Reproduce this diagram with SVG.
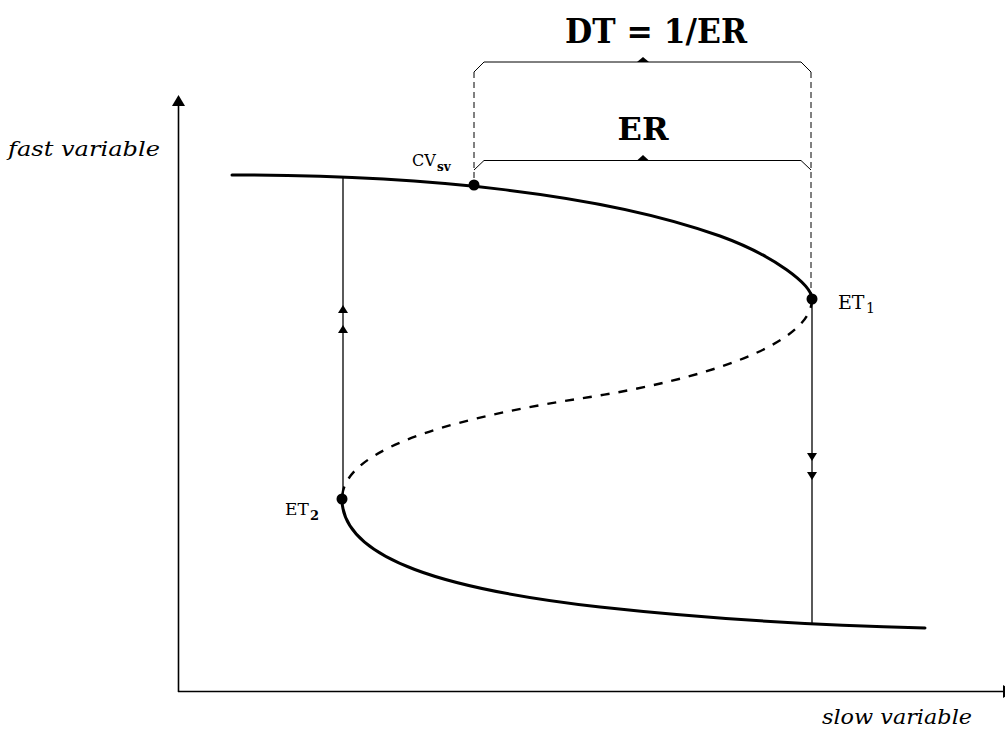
<svg xmlns="http://www.w3.org/2000/svg" width="1005" height="736" viewBox="0 0 1005 736">
<style>
.axis{stroke:#000;stroke-width:1.6;fill:none}
.curve{stroke:#000;stroke-width:3;fill:none;stroke-linecap:round}
.dashcurve{stroke:#000;stroke-width:2.4;fill:none;stroke-dasharray:9 9}
.jump{stroke:#000;stroke-width:1.3;fill:none}
.guide{stroke:#000;stroke-width:1;fill:none;stroke-dasharray:6 4}
.bracket{stroke:#000;stroke-width:1;fill:none}
.head{fill:#000}
.lbl{font-family:"DejaVu Serif","Liberation Serif",serif;fill:#000}
.it{font-style:italic}
.bold{font-weight:bold}
</style>
<rect width="1005" height="736" fill="#fff"/>
<g id="axes">
<line class="axis" x1="178.5" y1="692" x2="178.5" y2="104"/>
<polygon class="head" points="178.5,95 172,106 185,106"/>
<line class="axis" x1="178" y1="691.5" x2="1003" y2="691.5"/>
<polygon class="head" points="1014,691.5 1003,685 1003,698"/>
</g>
<g id="connectors">
<path id="upper-branch" class="curve" d="M232,175 C420,175 600,193 720,236 C775,256 812,285 812,299"/>
<path id="middle-branch" class="dashcurve" d="M812,299 C812,345 700,380 590,397 C470,415 342,445 342,499"/>
<path id="lower-branch" class="curve" d="M342,499 C342,560 450,590 600,607 C700,618 800,625 925,628"/>
<line class="jump" x1="343" y1="176" x2="343" y2="499"/>
<polygon class="head" points="343,305 338,313 348,313"/>
<polygon class="head" points="343,325 338,333 348,333"/>
<line class="jump" x1="812" y1="299" x2="812" y2="625"/>
<polygon class="head" points="812,461 807,453 817,453"/>
<polygon class="head" points="812,480 807,472 817,472"/>
<line class="guide" x1="474" y1="72" x2="474" y2="183"/>
<line class="guide" x1="811" y1="72" x2="811" y2="297"/>
<path class="bracket" d="M474,72 L484,62 L801,62 L811,72"/>
<polygon class="head" points="643,57 637,62 649,62"/>
<path class="bracket" d="M474,170 L484,160.5 L801,160.5 L811,170"/>
<polygon class="head" points="643,155 637,160.5 649,160.5"/>
</g>
<g id="node-cv">
<circle cx="474" cy="185" r="5.5" fill="#000"/>
<text class="lbl" x="412" y="166" font-size="16">CV</text>
<text class="lbl bold" x="437" y="171" font-size="12">sv</text>
</g>
<g id="node-et1">
<circle cx="812" cy="299" r="5.5" fill="#000"/>
<text class="lbl" x="838" y="309" font-size="19">ET</text>
<text class="lbl" x="866" y="313" font-size="14">1</text>
</g>
<g id="node-et2">
<circle cx="342" cy="499" r="5.5" fill="#000"/>
<text class="lbl" x="285" y="515" font-size="17">ET</text>
<text class="lbl bold" x="310" y="520" font-size="13">2</text>
</g>
<g id="labels">
<text class="lbl bold" x="656" y="43" font-size="33" text-anchor="middle" textLength="182" lengthAdjust="spacingAndGlyphs">DT = 1/ER</text>
<text class="lbl bold" x="643" y="140" font-size="31" text-anchor="middle" textLength="51" lengthAdjust="spacingAndGlyphs">ER</text>
<text class="lbl it" x="8" y="156" font-size="21" textLength="152" lengthAdjust="spacingAndGlyphs">fast variable</text>
<text class="lbl it" x="822" y="724" font-size="21" textLength="150" lengthAdjust="spacingAndGlyphs">slow variable</text>
</g>
</svg>
